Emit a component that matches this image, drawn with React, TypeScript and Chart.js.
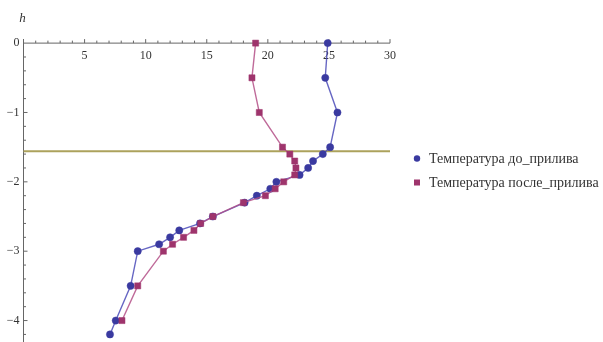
import React, { useEffect, useRef } from "react";
import Chart from "chart.js/auto";

// Depth h (m) for each series
const depthsBefore = [0, -0.5, -1, -1.5, -1.6, -1.7, -1.8, -1.9, -2.0, -2.1, -2.2, -2.3, -2.5, -2.6, -2.7, -2.8, -2.9, -3.0, -3.5, -4.0, -4.2];
const tempBefore = [24.9, 24.7, 25.7, 25.1, 24.5, 23.7, 23.3, 22.6, 20.7, 20.2, 19.1, 18.1, 15.5, 14.45, 12.75, 12.0, 11.1, 9.35, 8.77, 7.55, 7.08];

const depthsAfter = [0, -0.5, -1, -1.5, -1.6, -1.7, -1.8, -1.9, -2.0, -2.1, -2.2, -2.3, -2.5, -2.6, -2.7, -2.8, -2.9, -3.0, -3.5, -4.0];
const tempAfter = [19.0, 18.7, 19.3, 21.2, 21.8, 22.2, 22.3, 22.2, 21.3, 20.6, 19.8, 18.0, 15.5, 14.5, 13.95, 13.1, 12.2, 11.45, 9.35, 8.06];

const thermoclineDepth = -1.56;
const thermoclineX = [0, 30];

const seriesNames = ["Температура до_прилива", "Температура после_прилива"];
const xTickLabels = [5, 10, 15, 20, 25, 30];
const yTickLabels = [0, -1, -2, -3, -4];
const axisTitleY = "h";

const X_MIN = 0, X_MAX = 30, Y_MIN = -4.24, Y_MAX = 0.045;

const BLUE = "rgb(58,58,160)";
const BLUE_LINE = "rgba(75,75,185,0.85)";
const PINK = "rgb(158,52,108)";
const PINK_LINE = "rgba(180,80,135,0.85)";
const OLIVE = "rgb(172,162,92)";
const AXIS = "#666";
const TEXT = "#333";

const axesPlugin = {
  id: "customAxes",
  beforeDatasetsDraw(chart: any) {
    const { ctx, scales } = chart;
    const x = scales.x, y = scales.y;
    const x0 = x.getPixelForValue(0);
    const y0 = y.getPixelForValue(0);
    ctx.save();
    ctx.strokeStyle = AXIS;
    ctx.lineWidth = 1;
    ctx.beginPath();
    ctx.moveTo(x.left, y0);
    ctx.lineTo(x.right, y0);
    ctx.moveTo(x0, y.top - 1);
    ctx.lineTo(x0, chart.height);
    ctx.stroke();
    ctx.beginPath();
    for (let v = X_MIN + 1; v <= X_MAX; v++) {
      const px = x.getPixelForValue(v);
      const len = v % 5 === 0 ? 4 : 2.5;
      ctx.moveTo(px, y0);
      ctx.lineTo(px, y0 - len);
    }
    for (let i = 1; i <= 21; i++) {
      const v = -i * 0.2;
      const py = y.getPixelForValue(v);
      const len = i % 5 === 0 ? 4 : 2.5;
      ctx.moveTo(x0, py);
      ctx.lineTo(x0 + len, py);
    }
    ctx.stroke();
    ctx.fillStyle = TEXT;
    ctx.font = "12px 'Liberation Serif', serif";
    ctx.textAlign = "center";
    ctx.textBaseline = "middle";
    for (const v of xTickLabels) {
      ctx.fillText(String(v), x.getPixelForValue(v), y0 + 13);
    }
    ctx.textAlign = "right";
    for (const v of yTickLabels) {
      const s = v < 0 ? "\u2212" + Math.abs(v) : String(v);
      ctx.fillText(s, x0 - 4, y.getPixelForValue(v));
    }
    ctx.font = "italic 13px 'Liberation Serif', serif";
    ctx.textAlign = "center";
    ctx.fillText(axisTitleY, x0 - 1, 19);
    ctx.restore();
  },
  afterDraw(chart: any) {
    const { ctx } = chart;
    ctx.save();
    ctx.font = "14px 'Liberation Serif', serif";
    ctx.textAlign = "left";
    ctx.textBaseline = "middle";
    const mx = 417, tx = 429;
    const rows = [158.5, 182.5];
    ctx.fillStyle = BLUE;
    ctx.beginPath();
    ctx.arc(mx, rows[0], 3.2, 0, Math.PI * 2);
    ctx.fill();
    ctx.fillStyle = PINK;
    ctx.fillRect(mx - 3, rows[1] - 3, 6, 6);
    ctx.fillStyle = TEXT;
    ctx.fillText(seriesNames[0], tx, rows[0] + 1);
    ctx.fillText(seriesNames[1], tx, rows[1] + 1);
    ctx.restore();
  },
};

export default function App() {
  const ref = useRef<HTMLCanvasElement | null>(null);
  useEffect(() => {
    document.body.style.margin = "0";
    const canvas = ref.current;
    if (!canvas) return;
    const chart = new Chart(canvas, {
      type: "scatter",
      data: {
        datasets: [
          {
            label: seriesNames[0],
            data: depthsBefore.map((h, i) => ({ x: tempBefore[i], y: h })),
            showLine: true,
            borderColor: BLUE_LINE,
            borderWidth: 1.4,
            pointStyle: "circle",
            pointRadius: 3.6,
            pointBackgroundColor: BLUE,
            pointBorderColor: BLUE,
            pointBorderWidth: 0.5,
            clip: false,
            order: 1,
          },
          {
            label: seriesNames[1],
            data: depthsAfter.map((h, i) => ({ x: tempAfter[i], y: h })),
            showLine: true,
            borderColor: PINK_LINE,
            borderWidth: 1.4,
            pointStyle: "rect",
            pointRadius: 4.3,
            pointBackgroundColor: PINK,
            pointBorderColor: PINK,
            pointBorderWidth: 0.5,
            clip: false,
            order: 0,
          },
          {
            label: "thermocline",
            data: thermoclineX.map((t) => ({ x: t, y: thermoclineDepth })),
            showLine: true,
            borderColor: OLIVE,
            borderWidth: 2,
            pointRadius: 0,
            clip: false,
            order: 5,
          },
        ],
      },
      options: {
        responsive: false,
        animation: false,
        events: [],
        layout: { padding: { left: 23.5, right: 213, top: 40, bottom: 0 } },
        scales: {
          x: { type: "linear", min: X_MIN, max: X_MAX, display: false },
          y: { type: "linear", min: Y_MIN, max: Y_MAX, display: false },
        },
        plugins: {
          legend: { display: false },
          tooltip: { enabled: false },
        },
      },
      plugins: [axesPlugin],
    });
    return () => chart.destroy();
  }, []);
  return (
    <div style={{ width: 603, height: 342 }}>
      <canvas ref={ref} width={603} height={342} style={{ display: "block", width: 603, height: 342 }} />
    </div>
  );
}
